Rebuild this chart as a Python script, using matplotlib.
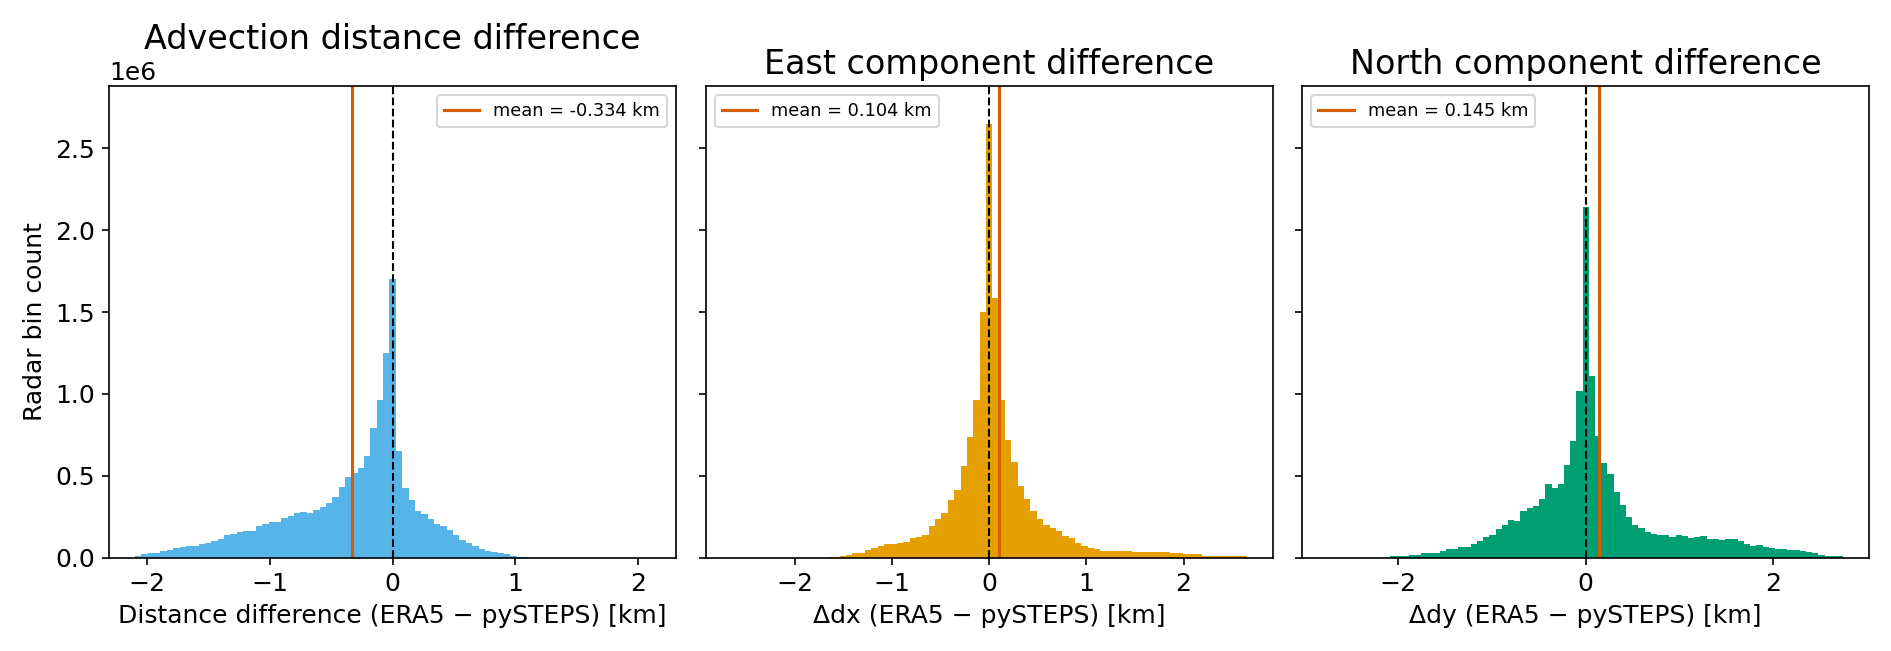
import numpy as np
import matplotlib
matplotlib.use("Agg")
import matplotlib.pyplot as plt

# bin counts in units of 1e6
dist_edges = np.linspace(-2.1, 2.1, 82)
dist_counts = [0.01, 0.02, 0.025, 0.03, 0.04, 0.045, 0.06, 0.065, 0.07, 0.07,
               0.08, 0.09, 0.10, 0.115, 0.135, 0.145, 0.155, 0.16, 0.16, 0.19,
               0.205, 0.22, 0.22, 0.24, 0.255, 0.275, 0.28, 0.275, 0.29, 0.31,
               0.335, 0.37, 0.43, 0.49, 0.515, 0.55, 0.62, 0.79, 0.965, 1.25,
               1.70, 0.65, 0.425, 0.35, 0.285, 0.265, 0.235, 0.205, 0.195, 0.17,
               0.135, 0.11, 0.09, 0.07, 0.05, 0.04, 0.035, 0.025, 0.02, 0.012,
               0.006, 0.003] + [0.0] * 19

dx_edges = np.linspace(-2.65, 2.65, 82)
dx_counts = [0.0] * 15 + [
    0.003, 0.005, 0.01, 0.015, 0.025, 0.03, 0.045, 0.06, 0.07, 0.08,
    0.085, 0.09, 0.095, 0.12, 0.125, 0.14, 0.19, 0.235, 0.275, 0.35,
    0.415, 0.56, 0.735, 0.965, 1.50, 2.65, 1.585, 0.965, 0.72, 0.585,
    0.44, 0.36, 0.285, 0.235, 0.20, 0.18, 0.16, 0.13, 0.12, 0.09,
    0.07, 0.058, 0.054, 0.043, 0.043, 0.043, 0.043, 0.043, 0.037, 0.037,
    0.037, 0.037, 0.037, 0.037, 0.03, 0.03, 0.024, 0.024, 0.024, 0.011,
    0.011, 0.011, 0.011, 0.011, 0.011, 0.008]

dy_edges = np.linspace(-2.75, 2.75, 84)
dy_counts = [0.0] * 10 + [
    0.008, 0.008, 0.008, 0.015, 0.015, 0.025, 0.025, 0.025, 0.038, 0.05,
    0.05, 0.065, 0.065, 0.08, 0.10, 0.125, 0.135, 0.175, 0.20, 0.23,
    0.225, 0.285, 0.305, 0.315, 0.36, 0.45, 0.425, 0.45, 0.565, 0.71,
    1.02, 2.14, 1.11, 0.745, 0.575, 0.51, 0.40, 0.32, 0.25, 0.20,
    0.178, 0.157, 0.146, 0.14, 0.135, 0.125, 0.135, 0.13, 0.12, 0.125,
    0.13, 0.115, 0.115, 0.108, 0.112, 0.112, 0.10, 0.083, 0.07, 0.074,
    0.066, 0.06, 0.053, 0.05, 0.045, 0.045, 0.04, 0.034, 0.025, 0.017,
    0.012, 0.01, 0.008]

means = [-0.334, 0.104, 0.145]
titles = ["Advection distance difference", "East component difference",
          "North component difference"]
xlabels = ["Distance difference (ERA5 \u2212 pySTEPS) [km]",
           "\u0394dx (ERA5 \u2212 pySTEPS) [km]",
           "\u0394dy (ERA5 \u2212 pySTEPS) [km]"]
colors = ["#56B4E9", "#E69F00", "#009E73"]
legend_locs = ["upper right", "upper left", "upper left"]

fig, axes = plt.subplots(1, 3, figsize=(12.61, 4.34), dpi=150, sharey=True)
data = [(dist_edges, dist_counts), (dx_edges, dx_counts), (dy_edges, dy_counts)]

for i, ax in enumerate(axes):
    edges, counts = data[i]
    counts = np.array(counts) * 1e6
    ax.hist(edges[:-1], bins=edges, weights=counts, color=colors[i])
    ax.axvline(0, color="black", ls="--", lw=1)
    ax.axvline(means[i], color="#D55E00", lw=1.5,
               label=f"mean = {means[i]:.3f} km")
    ax.set_title(titles[i], fontsize=16)
    ax.set_xlabel(xlabels[i], fontsize=12)
    ax.tick_params(labelsize=12)
    ax.legend(loc=legend_locs[i], fontsize=8.5)

axes[2].set_xticks([-2, 0, 2])
axes[0].set_ylim(0, 2.88e6)
axes[0].set_ylabel("Radar bin count", fontsize=12)
axes[0].yaxis.get_offset_text().set_fontsize(12)
axes[0].title.set_position((0.5, 1.05))

plt.tight_layout()
plt.savefig("out.png")
